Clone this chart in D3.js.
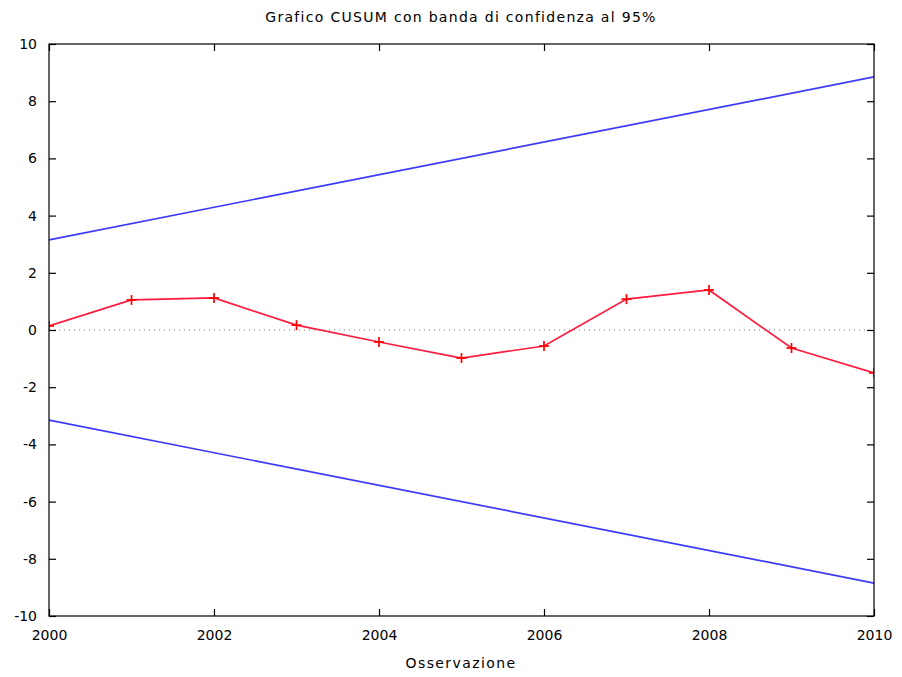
<!DOCTYPE html>
<html>
<head>
<meta charset="utf-8">
<script src="https://cdn.jsdelivr.net/npm/d3@7"></script>
<style>
  body { margin: 0; background: #fff; }
  text { font-family: "DejaVu Sans", sans-serif; fill: #000; }
</style>
</head>
<body>
<svg id="chart" width="902" height="677"></svg>
<script>
  // CUSUM values by year
  var years = [2000, 2001, 2002, 2003, 2004, 2005, 2006, 2007, 2008, 2009, 2010];
  var cusum = [0.14, 1.05, 1.12, 0.17, -0.42, -0.98, -0.56, 1.08, 1.40, -0.63, -1.50];
  // 95% confidence band, end points
  var band_years = [2000, 2010];
  var band_upper = [3.15, 8.85];
  var band_lower = [-3.15, -8.85];
  var x_ticks = [2000, 2002, 2004, 2006, 2008, 2010];
  var y_ticks = [-10, -8, -6, -4, -2, 0, 2, 4, 6, 8, 10];

  var svg = d3.select("#chart");
  var m_left = 49, m_right = 874, m_top = 44, m_bottom = 616;

  var x = d3.scaleLinear().domain([2000, 2010]).range([m_left, m_right]);
  var y = d3.scaleLinear().domain([-10, 10]).range([m_bottom, m_top]);

  svg.append("defs").append("clipPath").attr("id", "clip")
    .append("rect").attr("x", m_left).attr("y", m_top).attr("width", m_right - m_left).attr("height", m_bottom - m_top);

  // zero line
  svg.append("line")
    .attr("x1", m_left).attr("x2", m_right).attr("y1", y(0)).attr("y2", y(0))
    .style("stroke", "#777").style("stroke-width", 1).style("stroke-dasharray", "1,4");

  var plot = svg.append("g").attr("clip-path", "url(#clip)");

  var line = d3.line().x(function(d){ return x(d[0]); }).y(function(d){ return y(d[1]); });
  plot.append("path")
    .datum(band_years.map(function(v,i){ return [v, band_upper[i]]; }))
    .attr("d", line).style("fill", "none").style("stroke", "#3a3aff").style("stroke-width", 1.7);
  plot.append("path")
    .datum(band_years.map(function(v,i){ return [v, band_lower[i]]; }))
    .attr("d", line).style("fill", "none").style("stroke", "#3a3aff").style("stroke-width", 1.7);

  var pts = years.map(function(v,i){ return [v, cusum[i]]; });
  plot.append("path").datum(pts).attr("d", line)
    .style("fill", "none").style("stroke", "#ff1a40").style("stroke-width", 1.7);

  // + markers
  var mk = plot.append("g");
  pts.forEach(function(p){
    var cx = x(p[0]), cy = y(p[1]);
    mk.append("line").attr("x1", cx - 5).attr("x2", cx + 5).attr("y1", cy).attr("y2", cy)
      .style("stroke", "#ff0000").style("stroke-width", 1.7);
    mk.append("line").attr("x1", cx).attr("x2", cx).attr("y1", cy - 5).attr("y2", cy + 5)
      .style("stroke", "#ff0000").style("stroke-width", 1.7);
  });

  // axes with inward ticks on all sides
  var tl = 7;
  var fmt = function(d){ return String(d); };
  var axB = d3.axisBottom(x).tickValues(x_ticks).tickSize(-tl).tickPadding(tl + 7).tickFormat(fmt);
  var axT = d3.axisTop(x).tickValues(x_ticks).tickSize(-tl).tickFormat("");
  var axL = d3.axisLeft(y).tickValues(y_ticks).tickSize(-tl).tickPadding(tl + 5).tickFormat(fmt);
  var axR = d3.axisRight(y).tickValues(y_ticks).tickSize(-tl).tickFormat("");

  function style_axis(g){
    g.selectAll("line").style("stroke", "#000").style("stroke-width", 1.2);
    g.selectAll("text").style("font-family", "DejaVu Sans, sans-serif").style("font-size", "14px");
    g.select(".domain").remove();
  }
  svg.append("g").attr("transform", "translate(0," + m_bottom + ")").call(axB).call(style_axis);
  svg.append("g").attr("transform", "translate(0," + m_top + ")").call(axT).call(style_axis);
  svg.append("g").attr("transform", "translate(" + m_left + ",0)").call(axL).call(style_axis);
  svg.append("g").attr("transform", "translate(" + m_right + ",0)").call(axR).call(style_axis);
  svg.append("rect").attr("x", m_left).attr("y", m_top).attr("width", m_right - m_left).attr("height", m_bottom - m_top)
    .style("fill", "none").style("stroke", "#000").style("stroke-width", 1.2);

  svg.append("text").attr("x", 461).attr("y", 22).attr("text-anchor", "middle")
    .style("font-size", "14px").style("letter-spacing", "1.3px")
    .text("Grafico CUSUM con banda di confidenza al 95%");
  svg.append("text").attr("x", 461).attr("y", 668).attr("text-anchor", "middle")
    .style("font-size", "14px").style("letter-spacing", "1.4px")
    .text("Osservazione");
</script>
</body>
</html>
